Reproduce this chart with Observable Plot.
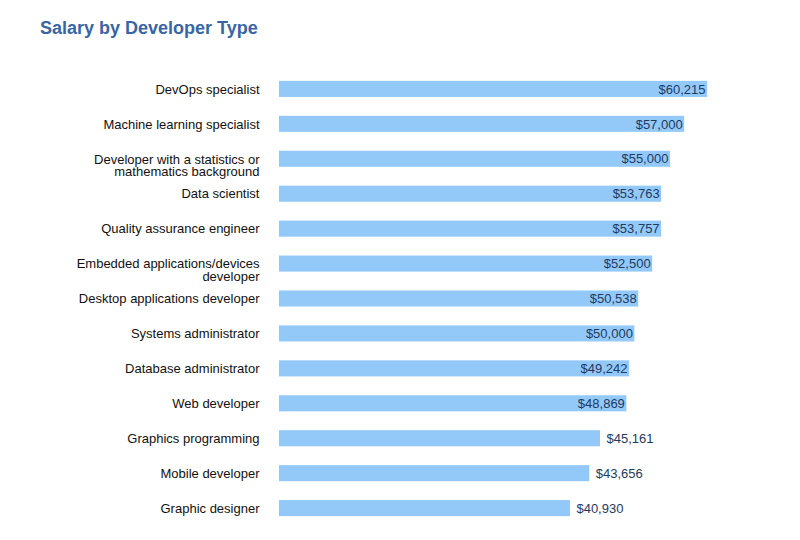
<!DOCTYPE html>
<html>
<head>
<meta charset="utf-8">
<script src="https://cdn.jsdelivr.net/npm/d3@7"></script>
<script src="https://cdn.jsdelivr.net/npm/@observablehq/plot@0.6"></script>
<style>
  body { margin: 0; background: #fff; font-family: "Liberation Sans", Arial, Helvetica, sans-serif; }
  #title { height: 50px; box-sizing: border-box; padding: 18px 0 0 40px; font-size: 18px; font-weight: bold; color: #3865a6; line-height: 20px; }
</style>
</head>
<body>
<div id="title">Salary by Developer Type</div>
<div id="chart"></div>
<script>
const developerTypes = [
  "DevOps specialist",
  "Machine learning specialist",
  "Developer with a statistics or\nmathematics background",
  "Data scientist",
  "Quality assurance engineer",
  "Embedded applications/devices\ndeveloper",
  "Desktop applications developer",
  "Systems administrator",
  "Database administrator",
  "Web developer",
  "Graphics programming",
  "Mobile developer",
  "Graphic designer"
];
const salaries = [60215, 57000, 55000, 53763, 53757, 52500, 50538, 50000, 49242, 48869, 45161, 43656, 40930];

const data = developerTypes.map((type, i) => ({type, salary: salaries[i]}));
const fmt = d => "$" + d3.format(",")(d);
const insideThreshold = 46000;

const chart = Plot.plot({
  width: 800,
  height: 490,
  marginLeft: 279,
  marginRight: 93,
  marginTop: 12,
  marginBottom: 5,
  style: {fontFamily: "'Liberation Sans', Arial, Helvetica, sans-serif", fontSize: "13px"},
  x: {domain: [0, d3.max(salaries)], axis: null},
  y: {domain: developerTypes, padding: 0.54, round: false, axis: null},
  marks: [
    Plot.barX(data, {x: "salary", y: "type", fill: "#93c9f9"}),
    Plot.text(data, {x: 0, y: "type", text: "type", textAnchor: "end", dx: -20, lineAnchor: "top", dy: -5, lineHeight: 1, fill: "#111", fontSize: 13}),
    Plot.text(data.filter(d => d.salary > insideThreshold), {x: "salary", y: "type", text: d => fmt(d.salary), textAnchor: "end", dx: -2, fill: "#1e3a5f", fontSize: 13}),
    Plot.text(data.filter(d => d.salary <= insideThreshold), {x: "salary", y: "type", text: d => fmt(d.salary), textAnchor: "start", dx: 6, fill: "#1e3a5f", fontSize: 13})
  ]
});
document.getElementById("chart").appendChild(chart);
</script>
</body>
</html>
